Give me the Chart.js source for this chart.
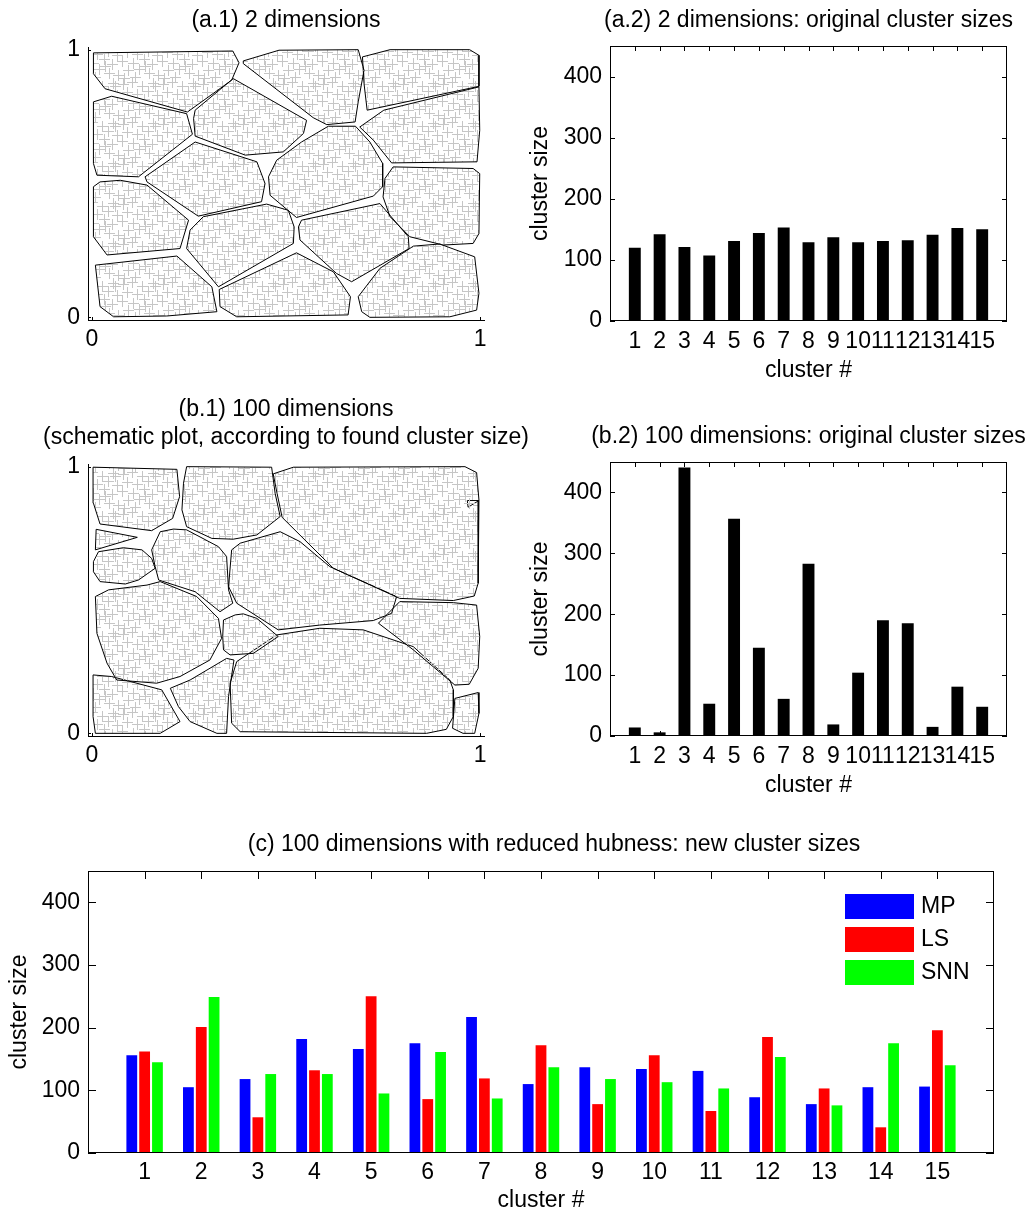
<!DOCTYPE html>
<html>
<head>
<meta charset="utf-8">
<script src="https://cdn.jsdelivr.net/npm/chart.js@4.4.1/dist/chart.umd.min.js"></script>
<style>
  body { margin: 0; background: #fff; overflow: hidden; }
  #fig { position: relative; width: 1036px; height: 1214px; overflow: hidden; }
  #fig canvas { position: absolute; }
</style>
</head>
<body>
<div id="fig">
  <canvas id="a1" width="572" height="390" style="left:0;top:0"></canvas>
  <canvas id="b1" width="572" height="410" style="left:0;top:390px"></canvas>
  <canvas id="a2" width="581" height="390" style="left:518px;top:0"></canvas>
  <canvas id="b2" width="581" height="410" style="left:518px;top:390px"></canvas>
  <canvas id="c" width="1108" height="414" style="left:0;top:800px"></canvas>
</div>
<script>
// cluster numbers and sizes
const clusterIds = [1, 2, 3, 4, 5, 6, 7, 8, 9, 10, 11, 12, 13, 14, 15];
const sizes2d   = [120, 142, 121, 107, 131, 144, 153, 129, 137, 129, 131, 132, 141, 152, 150];
const sizes100d = [14, 6, 441, 53, 357, 145, 61, 283, 19, 104, 190, 185, 15, 81, 48];
const sizesMP  = [156, 105, 118, 182, 166, 175, 217, 110, 137, 134, 131, 89, 78, 105, 106];
const sizesLS  = [162, 201, 57, 132, 250, 86, 119, 172, 78, 156, 67, 185, 103, 41, 196];
const sizesSNN = [145, 249, 126, 126, 95, 161, 87, 137, 118, 113, 103, 153, 76, 175, 140];
const methods = ['MP', 'LS', 'SNN'];
const sizeTicks = [0, 100, 200, 300, 400];
const unitTicks = [0, 1];

// cluster outlines (x, y in [0,1]) for the 2-dim data
const outlines2d = [
  [[0.004,0.988],[0.363,0.995],[0.379,0.951],[0.360,0.886],[0.246,0.767],[0.034,0.854],[0.004,0.910]],
  [[0.390,0.958],[0.482,0.998],[0.686,1.0],[0.701,0.923],[0.686,0.805],[0.678,0.730],[0.605,0.720],[0.570,0.746],[0.390,0.948]],
  [[0.697,0.973],[0.768,1.0],[0.973,1.0],[0.997,0.979],[0.997,0.863],[0.709,0.774],[0.701,0.873]],
  [[0.004,0.805],[0.051,0.826],[0.244,0.761],[0.259,0.684],[0.120,0.525],[0.013,0.531],[0.004,0.575]],
  [[0.364,0.892],[0.553,0.736],[0.545,0.687],[0.493,0.618],[0.395,0.606],[0.266,0.677],[0.262,0.743],[0.266,0.774]],
  [[0.690,0.711],[0.752,0.774],[0.997,0.861],[0.999,0.699],[0.992,0.581],[0.772,0.577],[0.725,0.662]],
  [[0.137,0.525],[0.266,0.655],[0.425,0.581],[0.446,0.500],[0.437,0.432],[0.274,0.378],[0.142,0.506]],
  [[0.455,0.525],[0.476,0.587],[0.540,0.655],[0.609,0.714],[0.679,0.714],[0.716,0.655],[0.749,0.575],[0.749,0.488],[0.725,0.453],[0.527,0.373],[0.459,0.456]],
  [[0.755,0.519],[0.776,0.562],[0.982,0.556],[0.999,0.537],[0.997,0.313],[0.982,0.276],[0.905,0.270],[0.819,0.301],[0.768,0.376],[0.750,0.450]],
  [[0.004,0.488],[0.021,0.506],[0.073,0.512],[0.142,0.494],[0.249,0.363],[0.227,0.257],[0.039,0.233],[0.004,0.301]],
  [[0.253,0.326],[0.287,0.376],[0.450,0.423],[0.506,0.400],[0.521,0.338],[0.519,0.276],[0.326,0.114],[0.244,0.257]],
  [[0.532,0.338],[0.540,0.363],[0.742,0.425],[0.815,0.301],[0.817,0.257],[0.669,0.133],[0.630,0.164],[0.536,0.289]],
  [[0.009,0.195],[0.219,0.229],[0.309,0.114],[0.322,0.021],[0.193,0.005],[0.056,0.002],[0.021,0.040]],
  [[0.328,0.104],[0.527,0.241],[0.622,0.170],[0.666,0.077],[0.660,0.009],[0.373,0.002],[0.330,0.040]],
  [[0.686,0.077],[0.742,0.183],[0.828,0.266],[0.896,0.274],[0.986,0.226],[0.997,0.090],[0.991,0.027],[0.922,0.002],[0.716,0.0],[0.695,0.021]]
];

// cluster outlines for the 100-dim data (schematic)
const outlines100d = [
  [[0.003,0.998],[0.219,0.990],[0.226,0.888],[0.208,0.806],[0.154,0.760],[0.021,0.785],[0.004,0.863]],
  [[0.244,1.0],[0.463,0.998],[0.472,0.900],[0.485,0.813],[0.425,0.744],[0.364,0.728],[0.309,0.731],[0.244,0.775],[0.232,0.838],[0.236,0.938]],
  [[0.467,0.973],[0.519,0.998],[0.961,1.0],[0.991,0.978],[0.997,0.875],[0.995,0.563],[0.985,0.515],[0.931,0.498],[0.793,0.506],[0.622,0.619],[0.490,0.810],[0.477,0.900]],
  [[0.967,0.873],[0.997,0.873],[0.969,0.848]],
  [[0.011,0.765],[0.117,0.735],[0.009,0.688]],
  [[0.017,0.681],[0.081,0.696],[0.129,0.688],[0.154,0.656],[0.163,0.619],[0.120,0.575],[0.086,0.560],[0.021,0.569],[0.004,0.606],[0.004,0.644]],
  [[0.154,0.688],[0.176,0.756],[0.210,0.766],[0.244,0.763],[0.326,0.700],[0.347,0.663],[0.352,0.538],[0.363,0.488],[0.330,0.456],[0.266,0.531],[0.172,0.575],[0.163,0.625]],
  [[0.360,0.688],[0.382,0.713],[0.485,0.756],[0.536,0.719],[0.613,0.625],[0.785,0.513],[0.772,0.450],[0.725,0.423],[0.587,0.406],[0.480,0.388],[0.373,0.488],[0.352,0.550]],
  [[0.738,0.413],[0.793,0.494],[0.931,0.490],[0.991,0.481],[0.999,0.363],[0.995,0.244],[0.972,0.184],[0.935,0.181],[0.828,0.313]],
  [[0.339,0.425],[0.369,0.444],[0.390,0.448],[0.425,0.431],[0.480,0.363],[0.416,0.300],[0.356,0.294],[0.339,0.313],[0.337,0.363]],
  [[0.009,0.513],[0.043,0.538],[0.142,0.556],[0.176,0.569],[0.270,0.513],[0.326,0.431],[0.334,0.356],[0.304,0.275],[0.227,0.213],[0.167,0.188],[0.064,0.200],[0.039,0.263],[0.013,0.375]],
  [[0.356,0.188],[0.373,0.269],[0.476,0.369],[0.587,0.394],[0.699,0.388],[0.828,0.325],[0.922,0.200],[0.931,0.163],[0.931,0.063],[0.913,0.015],[0.862,0.0],[0.382,0.006],[0.360,0.038]],
  [[0.003,0.219],[0.051,0.213],[0.180,0.163],[0.227,0.044],[0.176,0.0],[0.009,0.0],[0.003,0.063]],
  [[0.202,0.169],[0.253,0.200],[0.347,0.281],[0.366,0.275],[0.352,0.138],[0.347,0.0],[0.322,0.0],[0.253,0.044],[0.223,0.100]],
  [[0.935,0.131],[0.995,0.153],[0.997,0.075],[0.986,0.0],[0.956,0.0],[0.929,0.019]]
];

Chart.defaults.font.family = "'Liberation Sans', Arial, sans-serif";
Chart.defaults.font.size = 23;
Chart.defaults.color = '#000';

// grey "+" texture standing in for the point cloud
function plusTexture() {
  const tile = document.createElement('canvas');
  tile.width = 40; tile.height = 40;
  const g = tile.getContext('2d');
  g.strokeStyle = '#c6c6c6';
  g.lineWidth = 1;
  const spots = [[3,4],[12,2],[22,6],[33,3],[7,12],[17,14],[28,11],[37,15],[2,21],[13,23],
                 [24,19],[32,24],[8,30],[19,29],[29,33],[38,35],[4,38],[15,37],[25,26],[35,6]];
  g.beginPath();
  spots.forEach(([x, y]) => {
    for (const dx of [-40, 0, 40]) for (const dy of [-40, 0, 40]) {
      g.moveTo(x + dx - 5, y + dy + 0.5); g.lineTo(x + dx + 6, y + dy + 0.5);
      g.moveTo(x + dx + 0.5, y + dy - 5); g.lineTo(x + dx + 0.5, y + dy + 6);
    }
  });
  g.stroke();
  return g.createPattern(tile, 'repeat');
}
const texture = plusTexture();

// matlab style: inward ticks under the bars, box and legend on top
const frame = {
  id: 'frame',
  beforeDatasetsDraw(chart, args, opts) {
    const { ctx, chartArea: a, scales } = chart;
    const len = opts.tick;
    ctx.save();
    ctx.strokeStyle = '#000';
    ctx.lineWidth = 1;
    ctx.beginPath();
    scales.x.ticks.forEach(t => {
      const px = Math.round(scales.x.getPixelForValue(t.value)) + 0.5;
      ctx.moveTo(px, a.bottom); ctx.lineTo(px, a.bottom - len);
      if (opts.box) { ctx.moveTo(px, a.top); ctx.lineTo(px, a.top + len); }
    });
    scales.y.ticks.forEach(t => {
      const py = Math.round(scales.y.getPixelForValue(t.value)) + 0.5;
      ctx.moveTo(a.left, py); ctx.lineTo(a.left + len, py);
      if (opts.box) { ctx.moveTo(a.right, py); ctx.lineTo(a.right - len, py); }
    });
    ctx.stroke();
    ctx.restore();
  },
  afterDatasetsDraw(chart, args, opts) {
    const { ctx, chartArea: a } = chart;
    ctx.save();
    if (opts.box) {
      ctx.strokeStyle = '#000';
      ctx.lineWidth = 1;
      ctx.strokeRect(Math.round(a.left) + 0.5, Math.round(a.top) + 0.5, Math.round(a.width) - 1, Math.round(a.height) - 1);
    }
    if (opts.legend) {
      ctx.font = "23px 'Liberation Sans', Arial, sans-serif";
      ctx.textBaseline = 'middle';
      chart.data.datasets.forEach((ds, i) => {
        const x = a.right - 149, y = a.top + 23 + i * 33;
        ctx.fillStyle = ds.backgroundColor;
        ctx.fillRect(x, y, 69, 25);
        ctx.fillStyle = '#000';
        ctx.fillText(ds.label, x + 76, y + 13);
      });
    }
    ctx.restore();
  }
};

function titleOpts(text, top, bottom) {
  return { display: true, text: text, color: '#000',
           font: { size: 23, weight: 'normal', lineHeight: 1.2 }, padding: { top: top, bottom: bottom } };
}

// empty right-hand axis, only keeps the title centred over the plot
function spacer(w) {
  return { position: 'right', display: true, min: 0, max: 1,
           grid: { display: false, drawTicks: false }, border: { display: false },
           ticks: { display: false }, afterFit: s => { s.width = w; } };
}

function mapChart(id, outlines, o) {
  const datasets = outlines.map(poly => ({
    data: poly.concat([poly[0]]).map(([x, y]) => ({ x: x, y: y })),
    borderColor: '#000', borderWidth: 1, pointRadius: 0, tension: 0,
    fill: 'shape', backgroundColor: texture, yAxisID: 'y'
  }));
  new Chart(document.getElementById(id), {
    type: 'line',
    data: { datasets: datasets },
    options: {
      responsive: false, animation: false, events: [],
      scales: {
        x: { type: 'linear', min: -0.01, max: 1.01,
             afterBuildTicks: s => { s.ticks = unitTicks.map(v => ({ value: v })); },
             afterFit: s => { s.height = o.xh; },
             grid: { display: false, drawTicks: false },
             border: { display: true, color: '#000', width: 1 },
             ticks: { padding: 6, maxRotation: 0, autoSkip: false } },
        y: { type: 'linear', min: -0.01, max: 1.01,
             afterBuildTicks: s => { s.ticks = unitTicks.map(v => ({ value: v })); },
             afterFit: s => { s.width = 88; },
             grid: { display: false, drawTicks: false },
             border: { display: true, color: '#000', width: 1 },
             ticks: { padding: 8, autoSkip: false } },
        pad: spacer(88)
      },
      plugins: {
        legend: { display: false }, tooltip: { enabled: false },
        title: titleOpts(o.title, o.tt, o.tb),
        frame: { box: false, tick: 3 }
      }
    },
    plugins: [frame]
  });
}

function barChart(id, datasets, o) {
  new Chart(document.getElementById(id), {
    type: 'bar',
    data: { datasets: datasets },
    options: {
      responsive: false, animation: false, events: [],
      datasets: { bar: { categoryPercentage: o.cp, barPercentage: o.bp, yAxisID: 'y' } },
      scales: {
        x: { type: 'linear', min: 0, max: clusterIds.length + 1, offset: false,
             afterBuildTicks: s => { s.ticks = clusterIds.map(v => ({ value: v })); },
             afterFit: s => { s.height = o.xh; },
             grid: { display: false, drawTicks: false }, border: { display: false },
             ticks: { autoSkip: false, maxRotation: 0, padding: o.xpad },
             title: { display: true, text: 'cluster #', font: { size: 23 }, padding: { top: 0, bottom: o.xtb } } },
        y: { min: 0, max: 450,
             afterBuildTicks: s => { s.ticks = sizeTicks.map(v => ({ value: v })); },
             afterFit: s => { s.width = o.yw; },
             grid: { display: false, drawTicks: false }, border: { display: false },
             ticks: { autoSkip: false, padding: 8 },
             title: { display: true, text: 'cluster size', font: { size: 23 }, padding: { top: o.ytp, bottom: 0 } } },
        pad: spacer(o.pw)
      },
      plugins: {
        legend: { display: false }, tooltip: { enabled: false },
        title: titleOpts(o.title, o.tt, o.tb),
        frame: { box: true, tick: o.tick, legend: !!o.legend }
      }
    },
    plugins: [frame]
  });
}

const toPoints = vals => vals.map((v, i) => ({ x: clusterIds[i], y: v }));

mapChart('a1', outlines2d, { title: '(a.1) 2 dimensions', tt: 7, tb: 12.4, xh: 70 });
mapChart('b1', outlines100d, {
  title: ['(b.1) 100 dimensions', '(schematic plot, according to found cluster size)'],
  tt: 6.2, tb: 12.6, xh: 64 });

barChart('a2', [{ label: 'size', data: toPoints(sizes2d), backgroundColor: '#000' }], {
  title: '(a.2) 2 dimensions: original cluster sizes', tt: 7, tb: 11.4,
  pw: 92, yw: 92, ytp: 9.2, xh: 69, xpad: 7, xtb: 6, cp: 1, bp: 0.48, tick: 5 });

barChart('b2', [{ label: 'size', data: toPoints(sizes100d), backgroundColor: '#000' }], {
  title: '(b.2) 100 dimensions: original cluster sizes', tt: 33.2, tb: 11.2,
  pw: 92, yw: 92, ytp: 9.2, xh: 64, xpad: 7, xtb: 1, cp: 1, bp: 0.48, tick: 5 });

const newColors = ['#0000ff', '#ff0000', '#00ff00'];
barChart('c', [sizesMP, sizesLS, sizesSNN].map((vals, i) => ({
  label: methods[i], data: toPoints(vals), backgroundColor: newColors[i]
})), {
  title: '(c) 100 dimensions with reduced hubness: new cluster sizes', tt: 31.2, tb: 12.2,
  pw: 114, yw: 88, ytp: 6.2, xh: 61, xpad: 6, xtb: 0, cp: 0.68, bp: 0.84, tick: 8, legend: true });
</script>
</body>
</html>
